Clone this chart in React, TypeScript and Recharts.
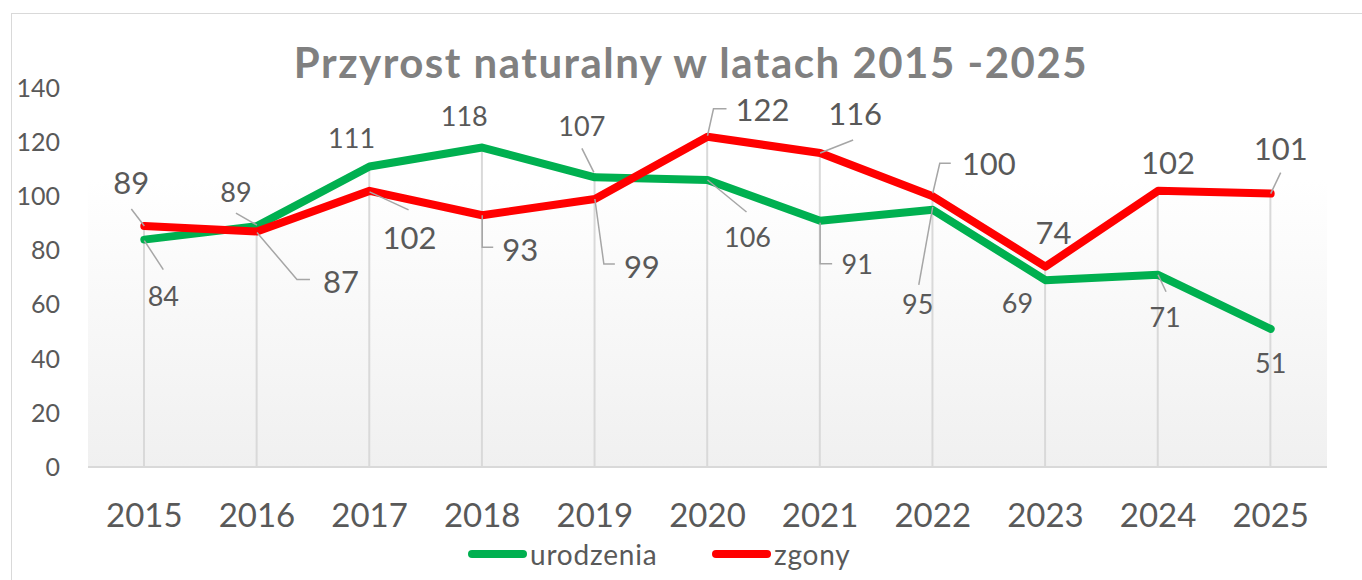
import React from 'react';
import { ComposedChart, Line, Bar, XAxis, YAxis, ReferenceArea, LabelList, Legend } from 'recharts';

const years = ['2015', '2016', '2017', '2018', '2019', '2020', '2021', '2022', '2023', '2024', '2025'];
const urodzenia = [84, 89, 111, 118, 107, 106, 91, 95, 69, 71, 51];
const zgony = [89, 87, 102, 93, 99, 122, 116, 100, 74, 102, 101];
const yTicks = [0, 20, 40, 60, 80, 100, 120, 140];
const seriesNames = { urodzenia: 'urodzenia', zgony: 'zgony' };
const title = 'Przyrost naturalny w latach 2015 -2025';

const data = years.map((year, i) => ({
  year,
  urodzenia: urodzenia[i],
  zgony: zgony[i],
  max: Math.max(urodzenia[i], zgony[i]),
}));

type LabelLayout = { dx: number; dy: number; leader?: number[][] };

// label placement (offset from the point, in px) and leader-line shapes
const urodzeniaLabelLayout: LabelLayout[] = [
  { dx: 19, dy: 57, leader: [[0, 1], [19, 30]] },
  { dx: -21, dy: -34, leader: [[0, -1], [-21, -13]] },
  { dx: -18, dy: -28 },
  { dx: -18, dy: -31 },
  { dx: -13, dy: -51, leader: [[-13, -29], [-1, -5]] },
  { dx: 40, dy: 57, leader: [[0, 0], [39, 32]] },
  { dx: 37, dy: 44, leader: [[0, 2], [0, 43], [12, 43]] },
  { dx: -15, dy: 94, leader: [[0, -3], [-14, 75]] },
  { dx: -28, dy: 23 },
  { dx: 7, dy: 42, leader: [[0, 0], [8, 17]] },
  { dx: 0, dy: 34 },
];

const zgonyLabelLayout: LabelLayout[] = [
  { dx: -13, dy: -43, leader: [[-13, -17], [0, 0]] },
  { dx: 84, dy: 50, leader: [[0, 1], [40, 48], [53, 48]] },
  { dx: 40, dy: 47, leader: [[0, 1], [39, 19]] },
  { dx: 38, dy: 35, leader: [[0, 0], [0, 32], [11, 32]] },
  { dx: 47, dy: 68, leader: [[0, 0], [9, 65], [20, 65]] },
  { dx: 55, dy: -27, leader: [[0, -1], [6, -28], [19, -28]] },
  { dx: 35, dy: -39, leader: [[0, 0], [33, -13]] },
  { dx: 56, dy: -32, leader: [[0, -3], [7, -33], [18, -33]] },
  { dx: 8, dy: -34 },
  { dx: 10, dy: -28 },
  { dx: 10, dy: -45, leader: [[10, -21], [0, 0]] },
];

const FONT = 'Lato, "Open Sans", sans-serif';
const TEXT = '#595959';
const GREEN = '#00b050';
const RED = '#ff0000';

const makeLabel = (layout: LabelLayout[], fontSize: number) => (props: any) => {
  const { x, y, value, index } = props;
  const l = layout[index];
  if (!l || x == null || y == null) return null;
  const cx = Number(x) + l.dx;
  const cy = Number(y) + l.dy;
  return (
    <g>
      {l.leader && (
        <polyline
          points={l.leader.map(([a, b]) => `${Number(x) + a},${Number(y) + b}`).join(' ')}
          fill="none"
          stroke="#a6a6a6"
          strokeWidth={1.5}
        />
      )}
      <text
        x={cx}
        y={cy + fontSize * 0.36}
        textAnchor="middle"
        fontSize={fontSize}
        fill={TEXT}
        fontFamily={FONT}
      >
        {value}
      </text>
    </g>
  );
};

const LegendContent = () => (
  <div style={{ position: 'relative', width: 1362, height: 40, fontFamily: FONT }}>
    {[
      { name: seriesNames.urodzenia, color: GREEN, left: 468 },
      { name: seriesNames.zgony, color: RED, left: 712 },
    ].map((it) => (
      <div key={it.name} style={{ position: 'absolute', left: it.left, top: 0, display: 'flex', alignItems: 'center', height: 34 }}>
        <div style={{ width: 59, height: 8, borderRadius: 4, background: it.color }} />
        <span style={{ fontSize: 28, letterSpacing: 0.8, color: TEXT, marginLeft: 3, lineHeight: '34px' }}>{it.name}</span>
      </div>
    ))}
  </div>
);

export default function App() {
  return (
    <div style={{ position: 'absolute', left: 0, top: 0, width: 1362, height: 580, overflow: 'hidden', background: '#fff' }}>
      <div
        style={{
          position: 'absolute',
          left: 11,
          top: 13,
          width: 1400,
          height: 620,
          borderLeft: '1.5px solid #d9d9d9',
          borderTop: '1.5px solid #d9d9d9',
        }}
      />
      <svg style={{ position: 'absolute', left: 0, top: 0 }} width={1362} height={110}>
        <text x={691} y={78} textAnchor="middle" fontSize={42} letterSpacing={1.5} fontWeight={700} fill="#808080" fontFamily={FONT}>
          {title}
        </text>
      </svg>
      <div style={{ position: 'absolute', left: 0, top: 0 }}>
        <ComposedChart width={1362} height={580} data={data} margin={{ top: 88, right: 35, bottom: 53, left: 0 }}>
          <defs>
            <linearGradient id="plotGrad" x1="0" y1="0" x2="0" y2="1">
              <stop offset="0%" stopColor="#ffffff" />
              <stop offset="100%" stopColor="#f0f0f0" />
            </linearGradient>
          </defs>
          <ReferenceArea y1={0} y2={106} fill="url(#plotGrad)" fillOpacity={1} stroke="none" ifOverflow="extendDomain" />
          <XAxis
            dataKey="year"
            height={60}
            axisLine={{ stroke: '#d9d9d9', strokeWidth: 2 }}
            tickLine={false}
            tickSize={6}
            tickMargin={31}
            tick={{ fontSize: 33, fill: TEXT, fontFamily: FONT }}
            interval={0}
          />
          <YAxis
            domain={[0, 140]}
            ticks={yTicks}
            width={88}
            axisLine={false}
            tickLine={false}
            tickSize={6}
            tickMargin={22}
            tick={{ fontSize: 25, fill: TEXT, fontFamily: FONT }}
            interval={0}
          />
          <Bar dataKey="max" barSize={2} fill="#d9d9d9" isAnimationActive={false} legendType="none" />
          <Line
            dataKey="urodzenia"
            name={seriesNames.urodzenia}
            type="linear"
            stroke={GREEN}
            strokeWidth={8}
            strokeLinecap="round"
            strokeLinejoin="round"
            dot={false}
            activeDot={false}
            isAnimationActive={false}
          >
            <LabelList dataKey="urodzenia" content={makeLabel(urodzeniaLabelLayout, 27)} />
          </Line>
          <Line
            dataKey="zgony"
            name={seriesNames.zgony}
            type="linear"
            stroke={RED}
            strokeWidth={8}
            strokeLinecap="round"
            strokeLinejoin="round"
            dot={false}
            activeDot={false}
            isAnimationActive={false}
          >
            <LabelList dataKey="zgony" content={makeLabel(zgonyLabelLayout, 31)} />
          </Line>
          <Legend
            verticalAlign="middle"
            align="center"
            layout="horizontal"
            content={() => <LegendContent />}
            wrapperStyle={{ position: 'absolute', left: 0, top: 537, width: 1362, height: 40 }}
          />
        </ComposedChart>
      </div>
    </div>
  );
}
